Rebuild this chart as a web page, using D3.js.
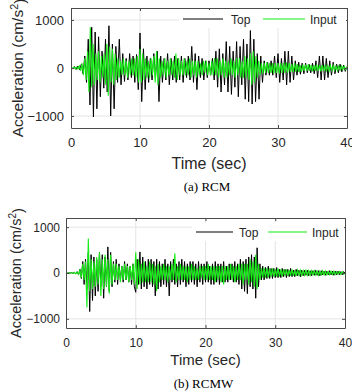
<!DOCTYPE html>
<html lang="en">
<head>
    <meta charset="UTF-8">
    <title>Acceleration response</title>
    <style>
        body { margin: 0; background: #fff; }
        text { font-family: "Liberation Sans", Arial, sans-serif; fill: #262626; }
        .caption { font-family: "Liberation Serif", "Times New Roman", serif; fill: #000; }
    </style>
</head>
<body>

    <svg id="svg" width="352" height="392"></svg>

    <script src="https://d3js.org/d3.v7.min.js"></script>
    <script>
        // ---- data (cm/s^2) ----
        const xTicks = [0, 10, 20, 30, 40]
        const yTicks = [-1000, 0, 1000]
        const seriesNames = ['Top', 'Input']

        // (a) RCM, Top: one value every 0.25 s, one row per second
        const rcmTopStep = 0.25
        const rcmTop = [
            20, -20, 30, -30,   40, -40, 80, -120,
            250, -300, 600, -770,   850, -1020, 750, -850,
            650, -600, 350, -420,   600, -500, 880, -1000,
            500, -850, 450, -300,   600, -350, 300, -280,
            200, -250, 300, -200,   250, -300, 280, -450,
            730, -700, 400, -450,   250, -300, 200, -250,
            300, -200, 350, -700,   250, -300, 200, -250,
            300, -350, 200, -250,   250, -300, 200, -250,
            250, -300, 200, -200,   250, -250, 450, -300,
            300, -450, 250, -200,   200, -250, 150, -200,
            150, -150, 200, -250,   350, -400, 400, -500,
            300, -350, 550, -500,   450, -550, 350, -400,
            550, -600, 450, -350,   600, -650, 500, -700,
            780, -750, 600, -700,   300, -650, 250, -300,
            150, -150, 120, -150,   150, -150, 250, -200,
            300, -300, 200, -250,   350, -350, 350, -300,
            250, -250, 150, -150,   120, -130, 100, -120,
            100, -100, 80, -100,    100, -120, 150, -200,
            250, -250, 250, -250,   200, -200, 150, -150,
            120, -120, 80, -100,    80, -80, 60, -70,
            30
        ]

        // (a) RCM, Input: one value every 0.2 s, one row per second
        const rcmInputStep = 0.2
        const rcmInput = [
            10, -10, 15, -15, 20,
            -20, 40, -60, 100, -150,
            200, -250, 350, -500, 850,
            -400, 500, -350, 300, -250,
            350, -300, 250, -200, 300,
            -350, 500, -580, 450, -300,
            400, -350, 300, -250, 200,
            -200, 150, -150, 200, -150,
            150, -200, 150, -150, 200,
            -150, 200, -200, 250, -300,
            400, -300, 300, -250, 200,
            -200, 150, -200, 200, -150,
            250, -300, 350, -350, 200,
            -200, 150, -150, 200, -200,
            150, -150, 200, -150, 150,
            -200, 300, -250, 200, -150,
            150, -150, 200, -150, 150,
            -150, 200, -200, 150, -150,
            150, -200, 150, -150, 100,
            -150, 150, -100, 150, -150,
            100, -150, 150, -150, 200,
            -150, 200, -200, 150, -150,
            200, -200, 150, -200, 150,
            -150, 200, -150, 150, -200,
            200, -150, 200, -200, 150,
            -200, 250, -200, 200, -250,
            300, -350, 350, -300, 250,
            -200, 150, -150, 100, -120,
            100, -100, 120, -100, 100,
            -100, 100, -120, 100, -100,
            100, -120, 100, -100, 100,
            -100, 120, -100, 100, -80,
            80, -80, 100, -80, 80,
            -80, 60, -80, 70, -60,
            70, -60, 80, -60, 60,
            -70, 60, -60, 70, -60,
            60, -70, 60, -60, 50,
            -60, 50, -60, 50, -50,
            50, -50, 40, -50, 40,
            -40, 40, -30, 40, -30,
            20
        ]

        // (b) RCMW, Top: one value every 0.2 s
        const rcmwTopStep = 0.2
        const rcmwTop = [
            5, -5, 5, -5, 10,
            -10, 15, -20, 30, -40,
            80, -120, 250, -250, 300,
            -350, 450, -840, 400, -600,
            350, -500, 300, -400, 450,
            -300, 400, -550, 350, -300,
            570, -400, 450, -300, 250,
            -200, 300, -250, 200, -150,
            150, -200, 250, -150, 200,
            -200, 150, -250, 200, -300,
            -420, 300, -250, 460, -350,
            350, -300, 250, -350, 300,
            -250, 300, -300, 250, -500,
            300, -350, 250, -300, 200,
            -250, 300, -300, 200, -500,
            250, -200, 300, -250, 200,
            -300, 250, -250, 300, -200,
            250, -300, 200, -250, 250,
            -200, 250, -250, 200, -300,
            250, -200, 200, -250, 200,
            -200, 250, -200, 150, -250,
            200, -250, 250, -200, 200,
            -250, 200, -200, 250, -200,
            150, -200, 200, -150, 200,
            -200, 250, -200, 200, -250,
            300, -350, 250, -400, 300,
            -450, 350, -300, 400, -350,
            350, -550, 550, -300, 200,
            -150, 150, -150, 120, -120,
            150, -120, 100, -120, 100,
            -100, 120, -100, 80, -100,
            100, -80, 80, -100, 80,
            -80, 100, -80, 60, -80,
            80, -60, 60, -80, 60,
            -60, 60, -50, 60, -60,
            50, -60, 50, -50, 60,
            -50, 50, -60, 50, -40,
            40, -50, 40, -40, 50,
            -40, 40, -50, 40, -40,
            40, -40, 30, -40, 30,
            0
        ]

        // (b) RCMW, Input: one value every 0.2 s
        const rcmwInputStep = 0.2
        const rcmwInput = [
            5, -5, 5, -5, 5,
            -10, 10, -15, 20, -30,
            60, -100, 200, -150, 250,
            -750, 750, -400, 300, -350,
            250, -300, 350, -250, 450,
            -500, 300, -350, 400, -300,
            300, -450, 400, -250, 200,
            -150, 200, -150, 150, -200,
            150, -150, 200, -150, 150,
            -200, 150, -150, 200, -250,
            450, -350, 300, -250, 200,
            -200, 250, -200, 150, -200,
            250, -200, 200, -250, 150,
            -400, 200, -200, 150, -150,
            200, -150, 150, -200, 150,
            -150, 200, -150, 430, -200,
            150, -150, 200, -150, 150,
            -150, 150, -200, 150, -150,
            200, -150, 150, -150, 100,
            -150, 150, -100, 150, -150,
            150, -150, 200, -150, 150,
            -150, 150, -200, 150, -150,
            150, -200, 150, -250, 150,
            -150, 150, -150, 200, -150,
            150, -200, 150, -150, 200,
            -150, 200, -250, 200, -150,
            200, -250, 300, -200, 250,
            -300, 400, -350, 200, -150,
            100, -100, 120, -100, 100,
            -100, 100, -80, 100, -80,
            80, -80, 100, -80, 80,
            -80, 80, -60, 80, -60,
            60, -60, 80, -60, 60,
            -60, 60, -50, 60, -50,
            50, -50, 60, -50, 50,
            -50, 50, -40, 50, -40,
            40, -50, 40, -40, 50,
            -40, 40, -40, 30, -40,
            40, -30, 40, -30, 30,
            -30, 30, -30, 30, -30,
            0
        ]

        const colors = { Top: '#000000', Input: '#14ee14' }

        const svg = d3.select('#svg')

        function toPoints(values, step) {
            return values.map((v, i) => ({ t: i * step, a: v }))
        }

        function drawPanel(p) {
            const g = svg.append('g')
            const x = d3.scaleLinear().domain([0, 40]).range([p.left, p.right])
            const y = d3.scaleLinear().domain([-p.ymax, p.ymax]).range([p.bottom, p.top])
            const w = p.right - p.left
            const h = p.bottom - p.top

            // grid
            g.append('g')
                .selectAll('line')
                .data(xTicks.slice(1, -1))
                .enter()
                .append('line')
                .attr('x1', d => x(d)).attr('x2', d => x(d))
                .attr('y1', p.top).attr('y2', p.bottom)
                .attr('stroke', '#e4e4e4')
            g.append('g')
                .selectAll('line')
                .data(yTicks)
                .enter()
                .append('line')
                .attr('x1', p.left).attr('x2', p.right)
                .attr('y1', d => y(d)).attr('y2', d => y(d))
                .attr('stroke', '#e4e4e4')

            // lines
            const clipId = 'clip' + p.id
            svg.append('clipPath').attr('id', clipId)
                .append('rect')
                .attr('x', p.left).attr('y', p.top)
                .attr('width', w).attr('height', h)

            const line = d3.line().x(d => x(d.t)).y(d => y(d.a))
            const plot = g.append('g').attr('clip-path', `url(#${clipId})`)
            plot.append('path')
                .datum(toPoints(p.top_values, p.top_step))
                .attr('d', line)
                .attr('fill', 'none')
                .attr('stroke', colors.Top)
                .attr('stroke-width', 1)
            plot.append('path')
                .datum(toPoints(p.input_values, p.input_step))
                .attr('d', line)
                .attr('fill', 'none')
                .attr('stroke', colors.Input)
                .attr('stroke-width', 1.1)

            // axes box with inward ticks
            const fmt = d3.format('d')
            const styleAxis = sel => {
                sel.select('.domain').attr('stroke', '#4a4a4a')
                sel.selectAll('.tick line').attr('stroke', '#4a4a4a')
            }
            const styleText = sel => sel.selectAll('text')
                .attr('font-size', p.tickFont).attr('fill', '#262626')
                .attr('font-family', '"Liberation Sans", Arial, sans-serif')
            g.append('g').attr('transform', `translate(0,${p.bottom})`)
                .call(d3.axisBottom(x).tickValues(xTicks).tickFormat(fmt).tickSize(-3).tickSizeOuter(0).tickPadding(10))
                .call(styleAxis)
                .call(styleText)
            g.append('g').attr('transform', `translate(0,${p.top})`)
                .call(d3.axisTop(x).tickValues(xTicks).tickSize(-3).tickSizeOuter(0).tickFormat(''))
                .call(styleAxis)
            g.append('g').attr('transform', `translate(${p.left},0)`)
                .call(d3.axisLeft(y).tickValues(yTicks).tickFormat(fmt).tickSize(-3).tickSizeOuter(0).tickPadding(p.yPad))
                .call(styleAxis)
                .call(styleText)
            g.append('g').attr('transform', `translate(${p.right},0)`)
                .call(d3.axisRight(y).tickValues(yTicks).tickSize(-3).tickSizeOuter(0).tickFormat(''))
                .call(styleAxis)

            // axis labels
            g.append('text')
                .attr('x', (p.left + p.right) / 2)
                .attr('y', p.xlabelY)
                .attr('text-anchor', 'middle')
                .attr('font-size', p.labelFont)
                .text('Time (sec)')

            const yl = g.append('text')
                .attr('transform', `translate(${p.ylabelX},${(p.top + p.bottom) / 2}) rotate(-90)`)
                .attr('text-anchor', 'middle')
                .attr('font-size', p.ylabelFont)
            yl.append('tspan').text('Acceleration (cm/s')
            yl.append('tspan').attr('dy', '-0.45em').attr('font-size', '70%').text('2')
            yl.append('tspan').attr('dy', '0.45em').text(')')

            // legend (no border, white patch)
            const lg = g.append('g')
            lg.append('rect')
                .attr('x', p.leg[0][0] - 4).attr('y', p.legY - 9)
                .attr('width', p.right - p.leg[0][0] + 3).attr('height', 18)
                .attr('fill', '#fff')
            seriesNames.forEach((name, i) => {
                const [x1, x2, tx] = p.leg[i]
                lg.append('line')
                    .attr('x1', x1).attr('x2', x2)
                    .attr('y1', p.legY).attr('y2', p.legY)
                    .attr('stroke', colors[name])
                    .attr('stroke-width', 1.2)
                lg.append('text')
                    .attr('x', tx).attr('y', p.legY + 4.5)
                    .attr('font-size', 12)
                    .text(name)
            })

            // caption
            svg.append('text')
                .attr('class', 'caption')
                .attr('x', (p.left + p.right) / 2 - 2)
                .attr('y', p.captionY)
                .attr('text-anchor', 'middle')
                .attr('font-size', 13)
                .text(p.caption)
        }

        drawPanel({
            id: 'a', left: 71, right: 347, top: 8, bottom: 128, ymax: 1250,
            top_values: rcmTop, top_step: rcmTopStep,
            input_values: rcmInput, input_step: rcmInputStep,
            tickFont: 13, labelFont: 16, ylabelFont: 15.5, yPad: 7,
            xlabelY: 168.5, ylabelX: 23, legY: 19,
            leg: [[183, 223, 231], [263, 305, 310]],
            captionY: 191, caption: '(a) RCM'
        })

        drawPanel({
            id: 'b', left: 66, right: 345, top: 218, bottom: 328, ymax: 1200,
            top_values: rcmwTop, top_step: rcmwTopStep,
            input_values: rcmwInput, input_step: rcmwInputStep,
            tickFont: 12, labelFont: 15, ylabelFont: 14.5, yPad: 6,
            xlabelY: 365, ylabelX: 21, legY: 232,
            leg: [[196, 233, 239], [268, 307, 312]],
            captionY: 388, caption: '(b) RCMW'
        })
    </script>
</body>
</html>
